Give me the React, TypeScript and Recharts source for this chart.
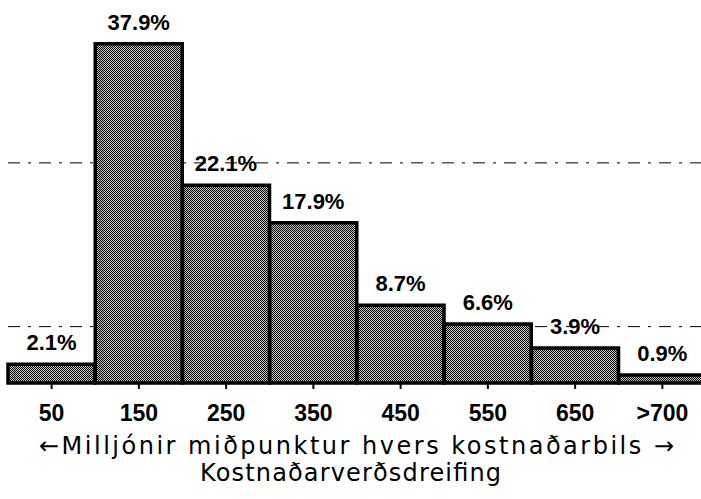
import React from "react";
import { BarChart, Bar, XAxis, YAxis, CartesianGrid, LabelList } from "recharts";

const categories = ["50", "150", "250", "350", "450", "550", "650", ">700"];
const shares = [2.1, 37.9, 22.1, 17.9, 8.7, 6.6, 3.9, 0.9];
const gridValues = [6.3, 24.6];
const titleLine1 = "\u2190Milljónir miðpunktur hvers kostnaðarbils \u2192";
const titleLine2 = "Kostnaðarverðsdreifing";

const data = categories.map((c, i) => ({ label: c, value: shares[i] }));

const titleFont = "'DejaVu Sans', 'Liberation Sans', sans-serif";

const renderTitle = (props: any) => {
  const vb = props.viewBox || { x: 0, y: 383, width: 700, height: 116 };
  const y0 = vb.y;
  return (
    <g>
      <text
        x={39}
        y={y0 + 71}
        textLength={635}
        lengthAdjust="spacing"
        style={{ fontFamily: titleFont, fontSize: 24 }}
        fill="#000"
      >
        {titleLine1}
      </text>
      <text
        x={200}
        y={y0 + 98}
        textLength={301}
        lengthAdjust="spacing"
        style={{ fontFamily: titleFont, fontSize: 24 }}
        fill="#000"
      >
        {titleLine2}
      </text>
    </g>
  );
};

export default function App() {
  return (
    <div
      style={{
        position: "absolute",
        left: 0,
        top: 0,
        width: 701,
        height: 499,
        overflow: "hidden",
        background: "#fff",
      }}
    >
      <BarChart
        width={712}
        height={499}
        data={data}
        margin={{ top: 0, right: 6, bottom: 0, left: 8 }}
        barCategoryGap={0}
        barGap={0}
      >
        <defs>
          <pattern id="dither" x="0" y="0" width="2" height="2" patternUnits="userSpaceOnUse">
            <rect x="0" y="0" width="2" height="2" fill="#c4c4c4" />
            <rect x="0" y="0" width="1" height="1" fill="#000000" />
            <rect x="1" y="1" width="1" height="1" fill="#000000" />
          </pattern>
        </defs>
        <CartesianGrid
          vertical={false}
          horizontalValues={gridValues}
          stroke="#000"
          strokeWidth={1}
          strokeDasharray="12 8 3 8"
        />
        <YAxis hide domain={[0, 42.8]} />
        <XAxis
          dataKey="label"
          height={116}
          interval={0}
          tickSize={6}
          tickMargin={16}
          axisLine={{ stroke: "#000", strokeWidth: 2 }}
          tickLine={{ stroke: "#000", strokeWidth: 2 }}
          tick={{ fill: "#000", fontSize: 23, fontFamily: "Liberation Sans", fontWeight: "bold" }}
          label={renderTitle}
        />
        <Bar
          dataKey="value"
          fill="url(#dither)"
          stroke="#000"
          strokeWidth={3.5}
          isAnimationActive={false}
        >
          <LabelList
            dataKey="value"
            position="top"
            offset={14}
            formatter={(v: any) => `${v}%`}
            style={{ fill: "#000", fontSize: 22, fontFamily: "Liberation Sans", fontWeight: "bold" }}
          />
        </Bar>
      </BarChart>
    </div>
  );
}
